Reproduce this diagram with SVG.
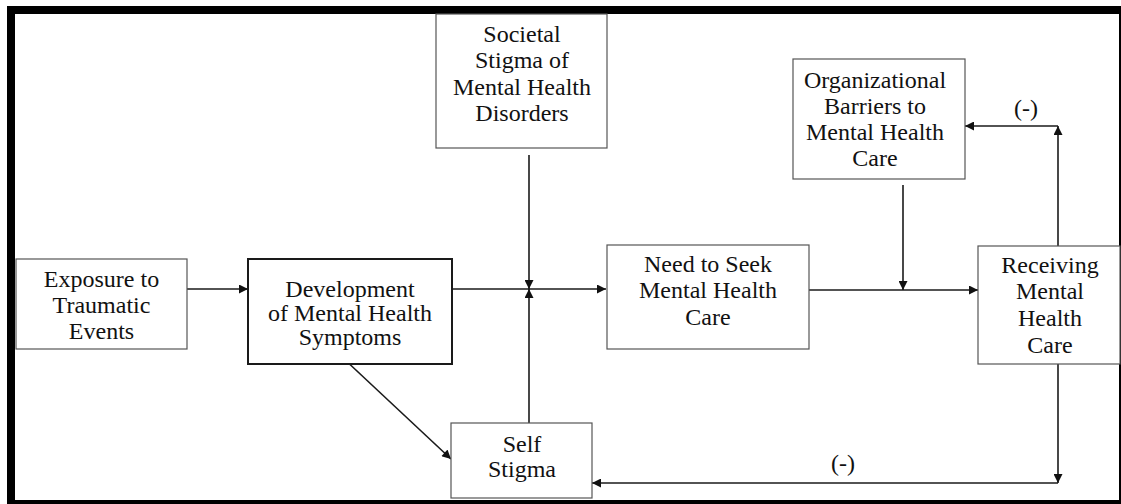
<svg xmlns="http://www.w3.org/2000/svg" width="1121" height="504" viewBox="0 0 1121 504">
  <style>
    .box { fill: #ffffff; stroke: #555555; stroke-width: 1.2; }
    .box-strong { fill: #ffffff; stroke: #1a1a1a; stroke-width: 2; }
    .label { font-family: "Liberation Serif", "Times New Roman", serif; font-size: 24px; fill: #111111; text-anchor: middle; }
    .conn { fill: none; stroke: #1a1a1a; stroke-width: 1.6; }
  </style>
  <defs>
    <marker id="arrow" viewBox="0 0 10 10" refX="10" refY="5" markerWidth="10" markerHeight="9" markerUnits="userSpaceOnUse" orient="auto">
      <path d="M0,0 L10,5 L0,10 Z" fill="#111111"/>
    </marker>
  </defs>

  <rect x="0" y="0" width="1121" height="504" fill="#ffffff"/>

  <!-- heavy outer frame -->
  <g id="frame" fill="#000000">
    <rect x="7" y="6" width="1114" height="8"/>
    <rect x="7" y="6" width="8" height="498"/>
    <rect x="7" y="500" width="1114" height="4"/>
    <rect x="1119" y="6" width="2" height="498"/>
  </g>

  <!-- connectors and their (-) labels -->
  <g id="connectors">
    <line class="conn" x1="187" y1="289" x2="248" y2="289" marker-end="url(#arrow)"/>
    <line class="conn" x1="452" y1="289" x2="606" y2="289" marker-end="url(#arrow)"/>
    <line class="conn" x1="529" y1="155" x2="529" y2="289" marker-end="url(#arrow)"/>
    <line class="conn" x1="529" y1="423" x2="529" y2="289" marker-end="url(#arrow)"/>
    <line class="conn" x1="342" y1="357" x2="451" y2="459" marker-end="url(#arrow)"/>
    <line class="conn" x1="809" y1="290" x2="978" y2="290" marker-end="url(#arrow)"/>
    <line class="conn" x1="903" y1="185" x2="903" y2="290" marker-end="url(#arrow)"/>
    <line class="conn" x1="1058" y1="246" x2="1058" y2="126" marker-end="url(#arrow)"/>
    <line class="conn" x1="1058" y1="126" x2="965" y2="126" marker-end="url(#arrow)"/>
    <line class="conn" x1="1058" y1="364" x2="1058" y2="483" marker-end="url(#arrow)"/>
    <line class="conn" x1="1058" y1="483" x2="592" y2="483" marker-end="url(#arrow)"/>
    <text class="label" x="1026" y="116">(-)</text>
    <text class="label" x="843" y="471">(-)</text>
  </g>

  <g id="exposure">
    <rect class="box" x="16" y="259" width="171" height="90"/>
    <text class="label" x="101.5" y="287">Exposure to</text>
    <text class="label" x="101.5" y="313">Traumatic</text>
    <text class="label" x="101.5" y="339">Events</text>
  </g>

  <g id="development">
    <rect class="box-strong" x="248" y="259" width="204" height="105"/>
    <text class="label" x="350" y="297">Development</text>
    <text class="label" x="350" y="321">of Mental Health</text>
    <text class="label" x="350" y="345">Symptoms</text>
  </g>

  <g id="societal-stigma">
    <rect class="box" x="436" y="14" width="171" height="134"/>
    <text class="label" x="522" y="42">Societal</text>
    <text class="label" x="522" y="68">Stigma of</text>
    <text class="label" x="522" y="95">Mental Health</text>
    <text class="label" x="522" y="121">Disorders</text>
  </g>

  <g id="need-to-seek">
    <rect class="box" x="607" y="245" width="202" height="104"/>
    <text class="label" x="708" y="272">Need to Seek</text>
    <text class="label" x="708" y="298">Mental Health</text>
    <text class="label" x="708" y="325">Care</text>
  </g>

  <g id="organizational-barriers">
    <rect class="box" x="793" y="59" width="172" height="120"/>
    <text class="label" x="875" y="88">Organizational</text>
    <text class="label" x="875" y="114">Barriers to</text>
    <text class="label" x="875" y="140">Mental Health</text>
    <text class="label" x="875" y="166">Care</text>
  </g>

  <g id="receiving-care">
    <rect class="box" x="978" y="246" width="142" height="118"/>
    <text class="label" x="1050" y="273">Receiving</text>
    <text class="label" x="1050" y="299">Mental</text>
    <text class="label" x="1050" y="326">Health</text>
    <text class="label" x="1050" y="353">Care</text>
  </g>

  <g id="self-stigma">
    <rect class="box" x="451" y="423" width="141" height="75"/>
    <text class="label" x="522" y="452">Self</text>
    <text class="label" x="522" y="477">Stigma</text>
  </g>
</svg>
